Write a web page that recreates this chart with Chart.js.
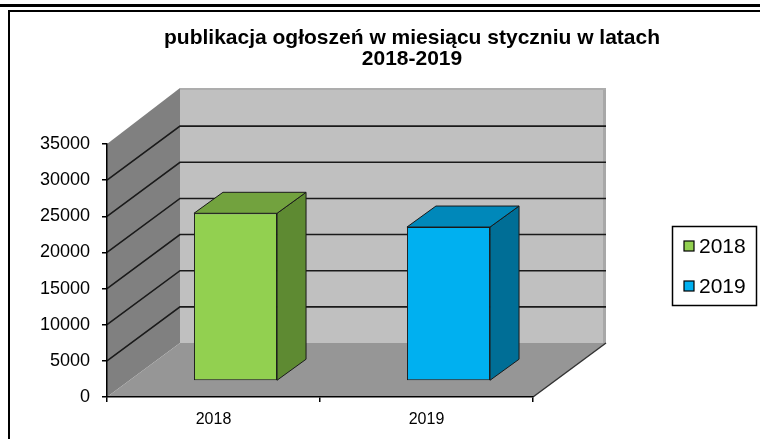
<!DOCTYPE html>
<html>
<head>
<meta charset="utf-8">
<script src="https://cdn.jsdelivr.net/npm/chart.js@4.4.1/dist/chart.umd.min.js"></script>
<style>
  html, body { margin: 0; padding: 0; background: #ffffff; }
  #c { display: block; }
</style>
</head>
<body>
<canvas id="c" width="760" height="439"></canvas>
<script>
// ---- data ----
const categories = ['2018', '2019'];
const values = [23200, 21300];
const yTicks = [0, 5000, 10000, 15000, 20000, 25000, 30000, 35000];
const titleLines = ['publikacja ogłoszeń w miesiącu styczniu w latach', '2018-2019'];
const frontColors = ['#92D050', '#00B0F0'];
const topColors = ['#72A23E', '#0088BA'];
const sideColors = ['#5E8A32', '#006E96'];

const FONT = "'Liberation Sans', Arial, sans-serif";
const DX = 73, DY = -54;          // wall depth
const SX = 22, SY = -16;          // bar front face shift
const BDX = 29, BDY = -21;        // bar depth

function poly(ctx, pts, fill, stroke, lw) {
  ctx.beginPath();
  ctx.moveTo(pts[0][0], pts[0][1]);
  for (let i = 1; i < pts.length; i++) ctx.lineTo(pts[i][0], pts[i][1]);
  ctx.closePath();
  if (fill) { ctx.fillStyle = fill; ctx.fill(); }
  if (stroke) { ctx.strokeStyle = stroke; ctx.lineWidth = lw || 1; ctx.stroke(); }
}

const threeD = {
  id: 'threeD',
  beforeDraw(chart) {
    const ctx = chart.ctx, ca = chart.chartArea, ys = chart.scales.y;
    ctx.save();
    // frame
    ctx.fillStyle = '#000';
    ctx.fillRect(0, 4, 760, 3);
    ctx.fillRect(8, 10, 752, 2);
    ctx.fillRect(8, 10, 2, 429);
    const wallTop = ca.top + DY - 2;
    // back wall
    poly(ctx, [[ca.left + DX, wallTop], [ca.right + DX, wallTop],
               [ca.right + DX, ca.bottom + DY], [ca.left + DX, ca.bottom + DY]], '#C0C0C0');
    ctx.fillStyle = '#A8A8A8';
    ctx.fillRect(ca.right + DX - 3, wallTop, 3, ca.bottom + DY - wallTop);
    ctx.fillStyle = '#ADADAD';
    ctx.fillRect(ca.left + DX, wallTop, ca.right - ca.left, 2);
    // side wall
    poly(ctx, [[ca.left, ca.bottom], [ca.left, ca.top], [ca.left + DX, wallTop],
               [ca.left + DX, ca.bottom + DY]], '#808080');
    // floor
    poly(ctx, [[ca.left, ca.bottom], [ca.right, ca.bottom], [ca.right + DX, ca.bottom + DY],
               [ca.left + DX, ca.bottom + DY]], '#969696');
    // grid lines on walls
    ctx.strokeStyle = '#1a1a1a';
    ctx.lineWidth = 1.6;
    yTicks.forEach(v => {
      if (v === 0 || v === ys.max) return;
      const py = ys.getPixelForValue(v);
      ctx.beginPath();
      ctx.moveTo(ca.left, py);
      ctx.lineTo(ca.left + DX, py + DY);
      ctx.lineTo(ca.right + DX, py + DY);
      ctx.stroke();
    });
    // floor right edge
    ctx.strokeStyle = '#333';
    ctx.lineWidth = 1.5;
    ctx.beginPath();
    ctx.moveTo(ca.right, ca.bottom);
    ctx.lineTo(ca.right + DX, ca.bottom + DY);
    ctx.stroke();
    ctx.restore();
  },
  beforeDatasetsDraw(chart) {
    chart.ctx.save();
    chart.ctx.translate(SX, SY);
  },
  afterDatasetsDraw(chart) {
    const ctx = chart.ctx;
    ctx.restore();
    const meta = chart.getDatasetMeta(0);
    ctx.save();
    ctx.lineJoin = 'round';
    meta.data.forEach((el, i) => {
      const p = el.getProps(['x', 'y', 'base', 'width'], true);
      const l = p.x - p.width / 2 + SX, r = p.x + p.width / 2 + SX;
      const t = p.y + SY, b = p.base + SY;
      poly(ctx, [[r, b], [r, t], [r + BDX, t + BDY], [r + BDX, b + BDY]], sideColors[i], '#1a1a1a', 1);
      poly(ctx, [[l, t], [r, t], [r + BDX, t + BDY], [l + BDX, t + BDY]], topColors[i], '#1a1a1a', 1);
    });
    ctx.restore();
  },
  afterDraw(chart) {
    const ctx = chart.ctx;
    ctx.save();
    // title
    ctx.fillStyle = '#000';
    ctx.font = 'bold 21px ' + FONT;
    ctx.textAlign = 'center';
    ctx.textBaseline = 'alphabetic';
    ctx.fillText(titleLines[0], 412, 44, 505);
    ctx.fillText(titleLines[1], 412, 65);
    // legend
    ctx.fillStyle = '#fff';
    ctx.fillRect(672, 226, 85, 80);
    ctx.strokeStyle = '#000';
    ctx.lineWidth = 1.5;
    ctx.strokeRect(672.5, 226.5, 84, 79);
    ctx.font = '21px ' + FONT;
    ctx.textAlign = 'left';
    ctx.textBaseline = 'middle';
    categories.forEach((c, i) => {
      const cy = 246 + i * 40;
      ctx.fillStyle = frontColors[i];
      ctx.fillRect(684, cy - 5, 10, 10);
      ctx.lineWidth = 1.2;
      ctx.strokeStyle = '#000';
      ctx.strokeRect(684, cy - 5, 10, 10);
      ctx.fillStyle = '#000';
      ctx.fillText(c, 699, cy + 1);
    });
    ctx.restore();
  }
};

new Chart(document.getElementById('c'), {
  type: 'bar',
  data: {
    labels: categories,
    datasets: [{
      label: 'ogłoszenia',
      data: values,
      backgroundColor: frontColors,
      borderColor: '#1a1a1a',
      borderWidth: 1,
      borderSkipped: false,
      categoryPercentage: 1,
      barPercentage: 0.39
    }]
  },
  options: {
    responsive: false,
    animation: false,
    devicePixelRatio: 1,
    layout: { padding: { left: 22, right: 227, top: 144, bottom: 0 } },
    plugins: {
      legend: { display: false },
      title: { display: false },
      tooltip: { enabled: false }
    },
    scales: {
      x: {
        offset: true,
        grid: { display: true, drawOnChartArea: false, offset: true, tickLength: 5, color: '#000', lineWidth: 1.5 },
        border: { display: true, color: '#000', width: 1.5 },
        ticks: { color: '#000', font: { family: FONT, size: 16 }, padding: 8 },
        afterFit(scale) { scale.height = 42; }
      },
      y: {
        min: 0,
        max: 35000,
        afterBuildTicks(scale) { scale.ticks = yTicks.map(v => ({ value: v })); },
        grid: { display: true, drawOnChartArea: false, tickLength: 5, color: '#000', lineWidth: 1.5 },
        border: { display: true, color: '#000', width: 1.5 },
        ticks: { color: '#000', font: { family: FONT, size: 18 }, padding: 12, callback: v => String(v) },
        afterFit(scale) { scale.width = 85; }
      }
    }
  },
  plugins: [threeD]
});
</script>
</body>
</html>
